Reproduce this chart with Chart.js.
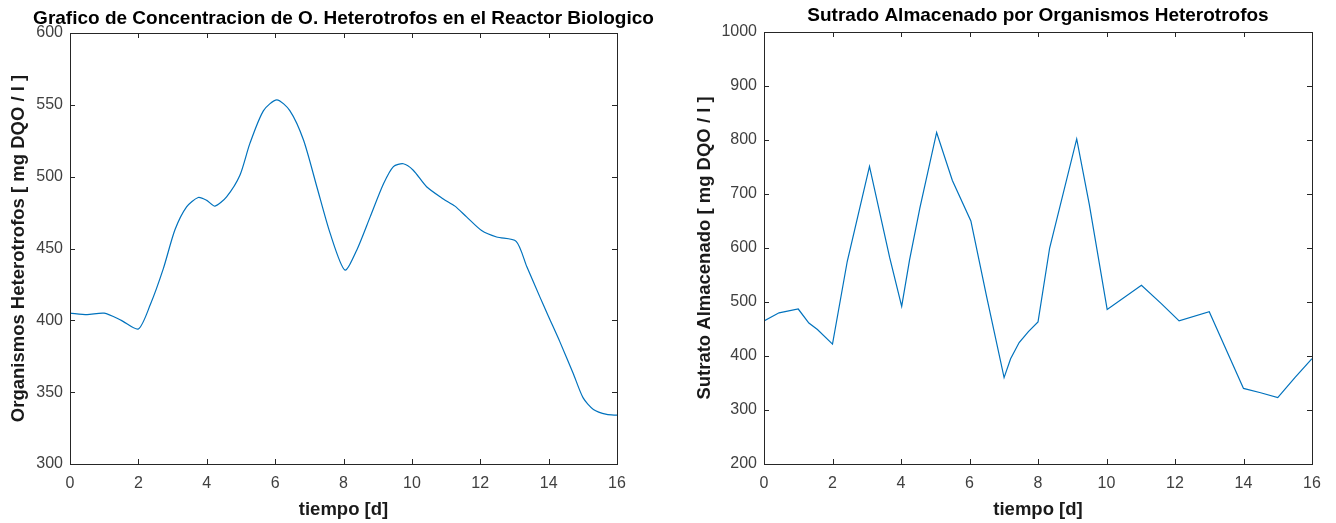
<!DOCTYPE html>
<html>
<head>
<meta charset="utf-8">
<script src="https://cdn.jsdelivr.net/npm/chart.js@4/dist/chart.umd.min.js"></script>
<style>
  html, body { margin: 0; padding: 0; background: #fff; }
  body { width: 1336px; height: 523px; position: relative; overflow: hidden; }
  .panel { position: absolute; top: 0; height: 523px; }
  #p1 { left: 0; width: 687px; }
  #p2 { left: 687px; width: 649px; }
</style>
</head>
<body>
<div class="panel" id="p1"><canvas id="canvas1"></canvas></div>
<div class="panel" id="p2"><canvas id="canvas2"></canvas></div>
<script>
// tiempo [d] y valores
const tiempoHet = [0, 0.5, 1, 1.5, 2, 2.35, 2.73, 3.07, 3.41, 3.75, 4.0, 4.24, 4.58, 4.97, 5.26, 5.66, 6.05, 6.43, 6.83, 7.22, 7.61, 8.04, 8.39, 8.78, 9.17, 9.46, 9.75, 10.04, 10.43, 10.92, 11.26, 11.6, 12.04, 12.48, 13.05, 13.36, 13.74, 13.99, 14.33, 14.72, 15.01, 15.31, 15.7, 16];
const organismosHet = [405, 404, 405, 400, 394, 411, 436, 463, 479, 485.5, 483.5, 479.5, 486, 501, 523, 546, 553.5, 546, 525.5, 493, 460.5, 435, 449, 472, 495, 507, 509, 504.5, 493, 484.5, 479.5, 472, 462.5, 458, 455, 437.5, 416.5, 403, 385, 363, 346, 338, 334.5, 334];

const tiempoSust = [0, 0.44, 1.0, 1.31, 1.56, 2.0, 2.43, 3.08, 3.67, 4.02, 4.25, 4.55, 5.04, 5.5, 6.04, 6.5, 7.01, 7.2, 7.45, 7.72, 8.0, 8.34, 9.13, 9.5, 10.02, 11.02, 11.6, 12.12, 13.0, 14.0, 14.5, 15.0, 15.5, 16];
const sustratoAlm = [465, 480, 487, 461, 449, 422, 575, 751, 582, 492, 578, 674, 814, 725, 650, 510, 360, 395, 425, 445, 463, 600, 802, 680, 486, 531, 497, 465, 482, 340, 332, 323, 360, 395];

const xTicks = [0, 2, 4, 6, 8, 10, 12, 14, 16];

const FONT = "'Liberation Sans', Arial, Helvetica, sans-serif";
const LINE = "#0072BD";

// caja tipo MATLAB con marcas hacia dentro en los cuatro lados
const boxTicks = {
  id: "boxTicks",
  afterDraw(chart) {
    const { ctx, chartArea: a, scales } = chart;
    const x = scales.x, y = scales.y;
    const len = 5;
    ctx.save();
    ctx.strokeStyle = "#262626";
    ctx.lineWidth = 1;
    ctx.beginPath();
    x.ticks.forEach(t => {
      const px = Math.round(x.getPixelForValue(t.value)) + 0.5;
      ctx.moveTo(px, a.bottom); ctx.lineTo(px, a.bottom - len);
      ctx.moveTo(px, a.top); ctx.lineTo(px, a.top + len);
    });
    y.ticks.forEach(t => {
      const py = Math.round(y.getPixelForValue(t.value)) + 0.5;
      ctx.moveTo(a.left, py); ctx.lineTo(a.left + len, py);
      ctx.moveTo(a.right, py); ctx.lineTo(a.right - len, py);
    });
    ctx.stroke();
    ctx.strokeRect(Math.round(a.left) + 0.5, Math.round(a.top) + 0.5, Math.round(a.width), Math.round(a.height));
    ctx.restore();
  }
};

function makeChart(id, xs, ys, cfg) {
  const ctx = document.getElementById(id).getContext("2d");
  const scales = {
    x: {
      type: "linear",
      min: 0,
      max: 16,
      afterBuildTicks: s => { s.ticks = xTicks.map(v => ({ value: v })); },
      afterFit: s => { s.height = 59; },
      grid: { display: false, drawTicks: false },
      border: { display: false },
      ticks: { color: "#404040", padding: 10, maxRotation: 0, font: { family: FONT, size: 16 }, callback: v => String(v) },
      title: {
        display: true,
        text: "tiempo [d]",
        color: "#1a1a1a",
        font: { family: FONT, size: 18.5, weight: "bold" },
        padding: { top: 0, bottom: 2 }
      }
    },
    y: {
      min: cfg.yMin,
      max: cfg.yMax,
      afterFit: s => { s.width = cfg.yWidth; },
      grid: { display: false, drawTicks: false },
      border: { display: false },
      ticks: { stepSize: cfg.yStep, color: "#404040", padding: 7, font: { family: FONT, size: 16 }, callback: v => String(v) },
      title: {
        display: true,
        text: cfg.yLabel,
        color: "#1a1a1a",
        font: { family: FONT, size: 18.5, weight: "bold" },
        padding: { top: cfg.yTitlePad, bottom: 0 }
      }
    }
  };
  if (cfg.rightSpace) {
    // espacio vacio a la derecha para centrar el titulo sobre el eje
    scales.yPad = {
      position: "right",
      display: true,
      grid: { display: false, drawTicks: false },
      border: { display: false },
      ticks: { display: false },
      afterFit: s => { s.width = cfg.rightSpace; }
    };
  }
  return new Chart(ctx, {
    type: "line",
    data: {
      datasets: [{
        data: xs.map((t, i) => ({ x: t, y: ys[i] })),
        borderColor: LINE,
        borderWidth: 1.2,
        pointRadius: 0,
        fill: false,
        tension: cfg.tension
      }]
    },
    options: {
      responsive: true,
      maintainAspectRatio: false,
      animation: false,
      layout: { padding: { left: 0, right: cfg.padRight, top: 0, bottom: 0 } },
      plugins: {
        legend: { display: false },
        tooltip: { enabled: false },
        title: {
          display: true,
          fullSize: cfg.titleFull,
          text: cfg.title,
          color: "#000",
          font: { family: FONT, size: 19, weight: "bold" },
          padding: { top: cfg.titleTop, bottom: cfg.titleBottom }
        }
      },
      scales: scales
    },
    plugins: [boxTicks]
  });
}

window.onload = function () {
  makeChart("canvas1", tiempoHet, organismosHet, {
    title: "Grafico de Concentracion de O. Heterotrofos en el Reactor Biologico",
    yLabel: "Organismos Heterotrofos [ mg DQO / l ]",
    yMin: 300, yMax: 600, yStep: 50,
    padRight: 0, rightSpace: 70, yWidth: 70, yTitlePad: 8,
    titleFull: true, titleTop: 7.5, titleBottom: 2.7,
    tension: 0.25
  });
  makeChart("canvas2", tiempoSust, sustratoAlm, {
    title: "Sutrado Almacenado por Organismos Heterotrofos",
    yLabel: "Sutrato Almacenado [ mg DQO / l ]",
    yMin: 200, yMax: 1000, yStep: 100,
    padRight: 24, rightSpace: 0, yWidth: 77, yTitlePad: 7,
    titleFull: false, titleTop: 4.5, titleBottom: 4.7,
    tension: 0
  });
};
</script>
</body>
</html>
